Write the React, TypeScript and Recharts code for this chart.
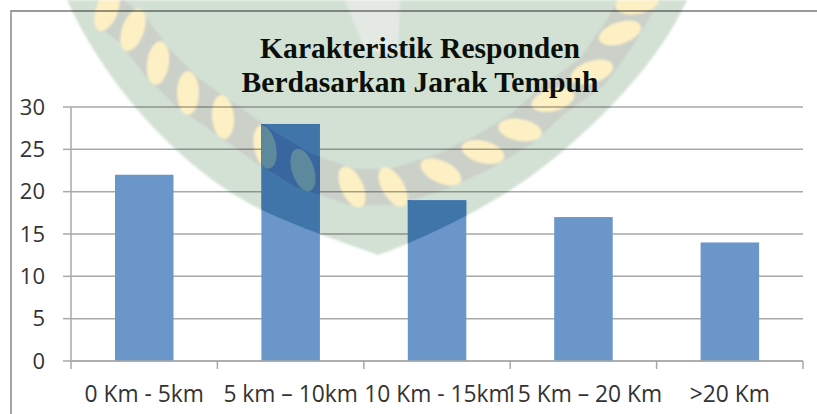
import React from 'react';
import { BarChart, Bar, XAxis, YAxis, CartesianGrid } from 'recharts';

const categories = ['0 Km - 5km', '5 km – 10km', '10 Km - 15km', '15 Km – 20 Km', '>20 Km'];
const respondents = [22, 28, 19, 17, 14];
const yTicks = [0, 5, 10, 15, 20, 25, 30];
const titleLines = ['Karakteristik Responden', 'Berdasarkan Jarak Tempuh'];

const data = categories.map((name, i) => ({ name, value: respondents[i] }));

const WIDTH = 817;
const HEIGHT = 414;
const PLOT_LEFT = 71;
const PLOT_RIGHT = 803;
const BAND = (PLOT_RIGHT - PLOT_LEFT) / categories.length;
const AXIS_COLOR = '#a8a8a8';
const TEXT_COLOR = '#333333';
const FONT = '"Open Sans", Lato, sans-serif';

// leaves of the background seal: x, y, rotation
const leaves = [
  [107, 10, 20], [133, 30, 20], [158, 63, 8], [188, 93, 0], [223, 117, -5], [265, 147, -12],
  [303, 170, -18], [352, 187, -25], [393, 187, -30], [441, 172, -65], [483, 152, -75],
  [520, 130, -80], [553, 100, -105], [592, 72, -108], [620, 33, -108], [637, 3, -100],
];
const sealOutline = 'M67 0 C110 95 190 175 262 210 C300 228 345 243 378 255 C420 240 480 212 530 177 C600 125 660 60 687 0 Z';
const ringPath = 'M' + leaves.map(([x, y]) => `${x} ${y}`).join(' L');

function SealShapes({ fill, ring, leaf }: { fill: string; ring: string; leaf: string }) {
  return (
    <g>
      <path d={sealOutline} fill={fill} />
      <path d={ringPath} fill="none" stroke={ring} strokeWidth={36} strokeLinejoin="round" />
      {leaves.map(([x, y, r], i) => (
        <ellipse key={i} cx={x} cy={y} rx={11} ry={22} transform={`rotate(${r} ${x} ${y})`} fill={leaf} />
      ))}
    </g>
  );
}

function SealBar({ x, y, width, height, index }: any) {
  const id = `bar-clip-${index}`;
  return (
    <g>
      <rect x={x} y={y} width={width} height={height} fill="#6b96ca" />
      <clipPath id={id}>
        <rect x={x} y={y} width={width} height={height} />
      </clipPath>
      <g clipPath={`url(#${id})`}>
        <SealShapes fill="#3f75a8" ring="#3a66a0" leaf="#5c8a9c" />
      </g>
    </g>
  );
}

function XTick({ x, y, payload, index }: any) {
  const left = x - BAND / 2;
  return (
    <g>
      <line x1={left} x2={left} y1={361} y2={369} stroke={AXIS_COLOR} strokeWidth={1.5} />
      {index === categories.length - 1 && (
        <line x1={left + BAND} x2={left + BAND} y1={361} y2={369} stroke={AXIS_COLOR} strokeWidth={1.5} />
      )}
      <text x={x} y={y + 33} textAnchor="middle" fontFamily={FONT} fontSize={22.8} fill={TEXT_COLOR}>
        {payload.value}
      </text>
    </g>
  );
}

function Seal() {
  return (
    <svg width={WIDTH} height={HEIGHT} style={{ position: 'absolute', left: 0, top: 0, filter: 'blur(1px)' }}>
      <SealShapes fill="#d3e1d4" ring="#cbd0c9" leaf="#fdf0c4" />
      <path d="M345 0 L400 0 L398 55 L365 50 Z" fill="#e4e9e4" />
    </svg>
  );
}

export default function App() {
  return (
    <div style={{ position: 'absolute', left: 0, top: 0, width: WIDTH, height: HEIGHT, background: '#fff', overflow: 'hidden' }}>
      <Seal />
      <div
        style={{
          position: 'absolute',
          left: 10,
          top: 10,
          width: WIDTH,
          height: HEIGHT,
          borderLeft: '2px solid #a6a6a6',
          borderTop: '2px solid rgba(0,0,0,0.4)',
        }}
      />
      <div style={{ position: 'absolute', left: 0, top: 0 }}>
        <BarChart
          width={WIDTH}
          height={HEIGHT}
          data={data}
          barSize={58.5}
          margin={{ top: 107, right: WIDTH - PLOT_RIGHT, bottom: 13, left: 10 }}
        >
          <CartesianGrid vertical={false} stroke="#000" strokeOpacity={0.34} strokeWidth={1.5} />
          <XAxis
            dataKey="name"
            interval={0}
            height={40}
            tick={<XTick />}
            tickLine={false}
            axisLine={{ stroke: AXIS_COLOR, strokeWidth: 1.5 }}
          />
          <YAxis
            width={61}
            domain={[0, 30]}
            ticks={yTicks}
            tick={{ fontFamily: FONT, fontSize: 22, fill: TEXT_COLOR }}
            tickLine={{ stroke: AXIS_COLOR, strokeWidth: 1.5 }}
            tickSize={8}
            tickMargin={18}
            axisLine={{ stroke: AXIS_COLOR, strokeWidth: 1.5 }}
          />
          <Bar dataKey="value" isAnimationActive={false} shape={<SealBar />} />
        </BarChart>
      </div>
      <div
        style={{
          position: 'absolute',
          left: 220,
          top: 31,
          width: 400,
          textAlign: 'center',
          fontFamily: '"Liberation Serif", serif',
          fontWeight: 'bold',
          fontSize: 29.6,
          lineHeight: '34px',
          color: '#0a0f0a',
        }}
      >
        {titleLines.map((line) => (
          <div key={line}>{line}</div>
        ))}
      </div>
    </div>
  );
}
